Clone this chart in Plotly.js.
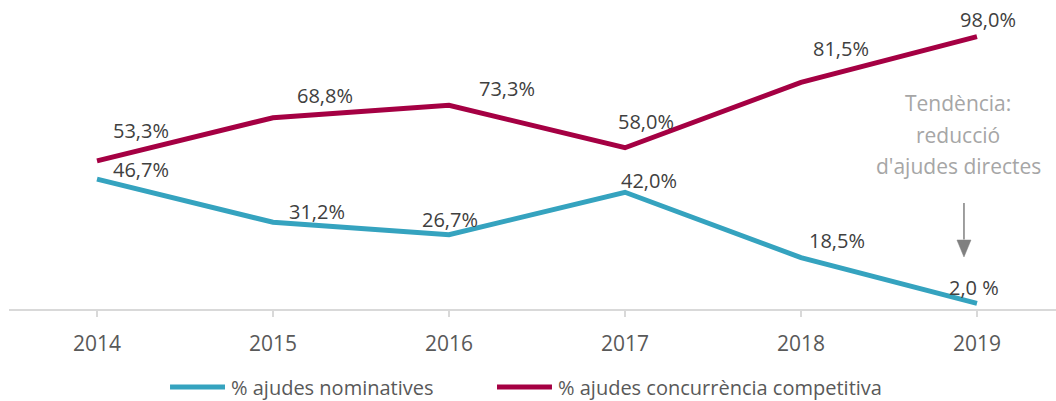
<!DOCTYPE html>
<html>
<head>
<meta charset="utf-8">
<script src="https://cdn.plot.ly/plotly-3.0.1.min.js"></script>
<style>html,body{margin:0;padding:0;background:#fff;}#chart{width:1056px;height:401px;}</style>
</head>
<body>
<div id="chart"></div>
<script>
// ---- data ----
var years = ['2014', '2015', '2016', '2017', '2018', '2019'];
var nominatives = [46.7, 31.2, 26.7, 42.0, 18.5, 2.0];
var concurrencia = [53.3, 68.8, 73.3, 58.0, 81.5, 98.0];
var nominativesLabels = ['46,7%', '31,2%', '26,7%', '42,0%', '18,5%', '2,0 %'];
var concurrenciaLabels = ['53,3%', '68,8%', '73,3%', '58,0%', '81,5%', '98,0%'];
var seriesNames = ['% ajudes nominatives', '% ajudes concurrència competitiva'];
var noteLines = ['Tendència:', 'reducció', "d'ajudes directes"];

// ---- styles / label offsets (pixels, right / up) ----
var colNom = '#35A3BF';
var colCon = '#A50043';
var nomOffsets = [[44, 10], [44, 11], [1, 15], [24, 12], [36, 17], [-3, 16]];
var conOffsets = [[44, 30], [52, 22], [58, 17], [21, 26], [40, 34], [11, 17]];
var FONT = '"Open Sans", "Noto Sans", sans-serif';
var vAdj = 0; // global vertical tweak for labels

var traces = [
  {x: years, y: nominatives, type: 'scatter', mode: 'lines', name: seriesNames[0],
   line: {color: colNom, width: 5}, hoverinfo: 'skip', showlegend: false, cliponaxis: false},
  {x: years, y: concurrencia, type: 'scatter', mode: 'lines', name: seriesNames[1],
   line: {color: colCon, width: 5}, hoverinfo: 'skip', showlegend: false, cliponaxis: false}
];

var annotations = [];
function addLabels(vals, labels, offs) {
  for (var i = 0; i < vals.length; i++) {
    annotations.push({
      x: i, y: vals[i], xref: 'x', yref: 'y', text: labels[i], showarrow: false,
      xanchor: 'center', yanchor: 'middle', xshift: offs[i][0], yshift: offs[i][1] + vAdj,
      font: {family: FONT, size: 20, color: '#404040'}
    });
  }
}
addLabels(nominatives, nominativesLabels, nomOffsets);
addLabels(concurrencia, concurrenciaLabels, conOffsets);

// note text, one annotation per line
var noteY = [0.741, 0.626, 0.5144];
for (var n = 0; n < noteLines.length; n++) {
  annotations.push({
    x: 0.9064, y: noteY[n], xref: 'paper', yref: 'paper', text: noteLines[n], showarrow: false,
    xanchor: 'center', yanchor: 'middle', align: 'center',
    font: {family: FONT, size: 21, color: '#A6A6A6'}
  });
}

// legend (custom)
var legX = [[0.1538, 0.2063, 0.2101], [0.4661, 0.5186, 0.5224]];
var legCols = [colNom, colCon];
var legY = -0.2806;
var shapes = [];
for (var k = 0; k < 2; k++) {
  shapes.push({type: 'line', xref: 'paper', yref: 'paper', x0: legX[k][0], x1: legX[k][1],
    y0: legY, y1: legY, line: {color: legCols[k], width: 5}});
  annotations.push({x: legX[k][2], y: legY, xref: 'paper', yref: 'paper', text: seriesNames[k],
    showarrow: false, xanchor: 'left', yanchor: 'middle',
    font: {family: FONT, size: 20, color: '#595959'}});
}

// arrow
shapes.push({type: 'line', xref: 'paper', yref: 'paper', x0: 0.9121, x1: 0.9121, y0: 0.3813, y1: 0.25,
  line: {color: '#808080', width: 1.5}});
shapes.push({type: 'path', xref: 'paper', yref: 'paper',
  path: 'M 0.9054 0.2482 L 0.9188 0.2482 L 0.9121 0.1871 Z',
  fillcolor: '#808080', line: {color: '#808080', width: 0.5}});

var layout = {
  width: 1056, height: 401,
  margin: {l: 9, r: 0, t: 31, b: 92, pad: 0},
  paper_bgcolor: '#ffffff', plot_bgcolor: '#ffffff',
  showlegend: false,
  font: {family: FONT, color: '#595959'},
  xaxis: {
    type: 'category', range: [-0.5, 5.449], fixedrange: true,
    showline: true, linecolor: '#D9D9D9', linewidth: 1.5,
    ticks: 'outside', ticklen: 6, tickwidth: 1.5, tickcolor: '#D9D9D9',
    showgrid: false, zeroline: false,
    tickfont: {family: FONT, size: 21, color: '#595959'},
    ticklabelstandoff: 9
  },
  yaxis: {visible: false, range: [0, 100], showgrid: false, zeroline: false, fixedrange: true},
  annotations: annotations,
  shapes: shapes
};

Plotly.newPlot('chart', traces, layout, {displayModeBar: false, staticPlot: true});
</script>
</body>
</html>
